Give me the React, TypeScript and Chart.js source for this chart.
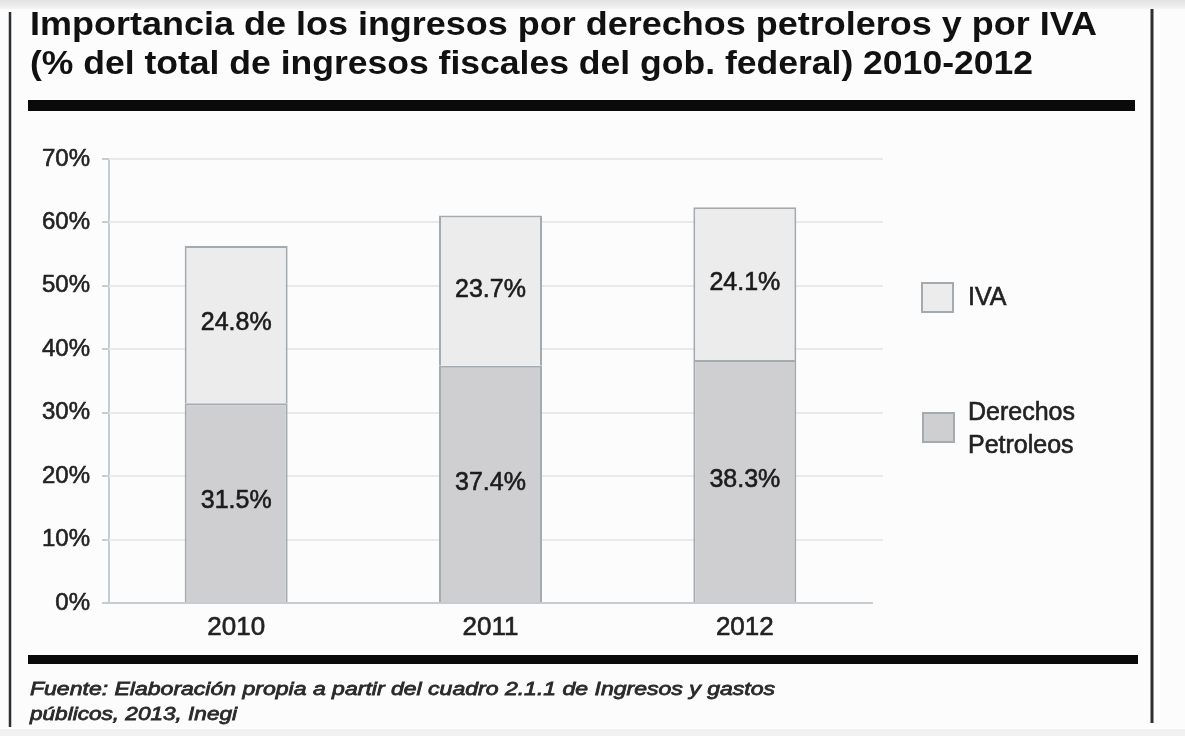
import React, { useEffect, useRef } from "react";
import { Chart, registerables } from "chart.js";

Chart.register(...registerables);

// ---- data ----
const years = ["2010", "2011", "2012"];
const derechosPetroleos = [31.5, 37.4, 38.3];
const iva = [24.8, 23.7, 24.1];
const yTickValues = [0, 10, 20, 30, 40, 50, 60, 70];
const seriesLabels = ["Derechos Petroleos", "IVA"];
const titleLines = [
  "Importancia de los ingresos por derechos petroleros y por IVA",
  "(% del total de ingresos fiscales del gob. federal) 2010-2012",
];
const sourceLines = [
  "Fuente: Elaboración propia a partir del cuadro 2.1.1 de Ingresos y gastos",
  "públicos, 2013, Inegi",
];

const W = 1185;
const H = 736;
const FONT = "'Liberation Sans', Arial, Helvetica, sans-serif";

const ivaFill = "#ececed";
const derFill = "#cfcfd1";
const barBorder = "#a3abb1";
const gridColor = "#e7e9eb";
const axisColor = "#c6ccd1";
const textColor = "#222222";

function fitText(
  ctx: CanvasRenderingContext2D,
  text: string,
  x: number,
  y: number,
  font: string,
  width: number,
  color: string,
  stroke = 0
) {
  ctx.save();
  ctx.font = font;
  ctx.fillStyle = color;
  ctx.strokeStyle = color;
  ctx.textAlign = "left";
  ctx.textBaseline = "alphabetic";
  const w = ctx.measureText(text).width;
  const s = width / w;
  ctx.translate(x, y);
  ctx.scale(s, 1);
  ctx.fillText(text, 0, 0);
  if (stroke > 0) {
    ctx.lineWidth = stroke;
    ctx.strokeText(text, 0, 0);
  }
  ctx.restore();
}

const decorPlugin = {
  id: "decor",
  beforeDraw(chart: any) {
    const ctx: CanvasRenderingContext2D = chart.ctx;
    ctx.save();
    ctx.fillStyle = "#fdfcfc";
    ctx.fillRect(0, 0, W, H);
    const g = ctx.createLinearGradient(0, 0, 0, 10);
    g.addColorStop(0, "#e2e2e2");
    g.addColorStop(1, "#f6f6f6");
    ctx.fillStyle = g;
    ctx.fillRect(0, 0, W, 9);
    ctx.fillStyle = "#f1f1f1";
    ctx.fillRect(0, 729, W, H - 729);
    ctx.restore();
  },
  beforeDatasetsDraw(chart: any) {
    const ctx: CanvasRenderingContext2D = chart.ctx;
    const ys = chart.scales.y;
    const area = chart.chartArea;
    ctx.save();
    ctx.strokeStyle = gridColor;
    ctx.lineWidth = 2;
    ys.ticks.forEach((t: any) => {
      if (t.value === 0) return;
      const py = Math.round(ys.getPixelForValue(t.value));
      ctx.beginPath();
      ctx.moveTo(area.left, py);
      ctx.lineTo(area.right + 11, py);
      ctx.stroke();
    });
    ctx.restore();
  },
  afterDatasetsDraw(chart: any) {
    const ctx: CanvasRenderingContext2D = chart.ctx;
    ctx.save();
    ctx.font = `25px ${FONT}`;
    ctx.fillStyle = "#1c1c1c";
    ctx.strokeStyle = "#1c1c1c";
    ctx.lineWidth = 0.6;
    ctx.textAlign = "center";
    ctx.textBaseline = "middle";
    chart.data.datasets.forEach((ds: any, di: number) => {
      const meta = chart.getDatasetMeta(di);
      meta.data.forEach((el: any, i: number) => {
        const v = ds.data[i] as number;
        const cy = (el.y + el.base) / 2;
        const t = `${v.toFixed(1)}%`;
        ctx.fillText(t, el.x, cy - 1);
        ctx.strokeText(t, el.x, cy - 1);
      });
    });
    ctx.restore();
  },
  afterDraw(chart: any) {
    const ctx: CanvasRenderingContext2D = chart.ctx;
    ctx.save();
    // title
    fitText(ctx, titleLines[0], 30, 35, `bold 33px ${FONT}`, 1067, "#111111");
    fitText(ctx, titleLines[1], 30, 74, `bold 33px ${FONT}`, 1003, "#111111");
    // rules
    ctx.fillStyle = "#0a0a0a";
    ctx.fillRect(28, 100, 1107, 11);
    ctx.fillRect(28, 655, 1110, 9);
    // frame lines
    ctx.strokeStyle = "#2b2f31";
    ctx.lineWidth = 2.5;
    ctx.beginPath();
    ctx.moveTo(10, 12);
    ctx.lineTo(10, 727);
    ctx.stroke();
    ctx.lineWidth = 3;
    ctx.beginPath();
    ctx.moveTo(1152, 9);
    ctx.lineTo(1152, 723);
    ctx.stroke();
    // source
    fitText(ctx, sourceLines[0], 30, 695, `italic 19px ${FONT}`, 745, "#2a2a2a", 0.8);
    fitText(ctx, sourceLines[1], 30, 720, `italic 19px ${FONT}`, 207, "#2a2a2a", 0.8);
    // legend (IVA first, then Derechos)
    const items = [
      { label: chart.data.datasets[1].label as string, fill: ivaFill, box: [921, 282, 33, 31], textY: 298 },
      { label: chart.data.datasets[0].label as string, fill: derFill, box: [922, 412, 33, 31], textY: 413 },
    ];
    ctx.font = `25px ${FONT}`;
    ctx.textAlign = "left";
    ctx.textBaseline = "middle";
    items.forEach((it) => {
      const [bx, by, bw, bh] = it.box;
      ctx.fillStyle = it.fill;
      ctx.fillRect(bx, by, bw, bh);
      ctx.strokeStyle = barBorder;
      ctx.lineWidth = 2;
      ctx.strokeRect(bx + 1, by + 1, bw - 2, bh - 2);
      ctx.fillStyle = textColor;
      ctx.strokeStyle = textColor;
      ctx.lineWidth = 0.6;
      const words = it.label.split(" ");
      words.forEach((w, k) => {
        ctx.fillText(w, 968, it.textY + k * 33);
        ctx.strokeText(w, 968, it.textY + k * 33);
      });
    });
    ctx.restore();
  },
};

export default function App() {
  const ref = useRef<HTMLCanvasElement | null>(null);

  useEffect(() => {
    document.body.style.margin = "0";
    document.body.style.overflow = "hidden";
    const canvas = ref.current!;
    const chart = new Chart(canvas, {
      type: "bar",
      data: {
        labels: years,
        datasets: [
          {
            label: seriesLabels[0],
            data: derechosPetroleos,
            backgroundColor: derFill,
            borderColor: barBorder,
            borderWidth: 2,
            barPercentage: 0.405,
            categoryPercentage: 1,
          },
          {
            label: seriesLabels[1],
            data: iva,
            backgroundColor: ivaFill,
            borderColor: barBorder,
            borderWidth: 2,
            barPercentage: 0.405,
            categoryPercentage: 1,
          },
        ],
      },
      options: {
        responsive: false,
        animation: false,
        devicePixelRatio: 1,
        layout: { padding: { left: 0, top: 159, right: W - 872, bottom: H - 603 - 40 } },
        plugins: {
          legend: { display: false },
          title: { display: false },
          tooltip: { enabled: false },
        },
        scales: {
          x: {
            stacked: true,
            grid: { display: false, drawTicks: false },
            border: { display: true, color: axisColor, width: 2 },
            ticks: {
              color: textColor,
              font: { family: FONT, size: 26 },
              padding: 9,
              textStrokeColor: textColor,
              textStrokeWidth: 0.6,
            },
            afterFit: (s: any) => {
              s.height = 40;
            },
          },
          y: {
            stacked: true,
            min: 0,
            max: 70,
            afterBuildTicks: (s: any) => {
              s.ticks = yTickValues.map((v) => ({ value: v }));
            },
            grid: { drawOnChartArea: false, drawTicks: true, tickLength: 7, color: axisColor, lineWidth: 2 },
            border: { display: true, color: axisColor, width: 2 },
            ticks: {
              color: textColor,
              font: { family: FONT, size: 24 },
              padding: 12,
              textStrokeColor: textColor,
              textStrokeWidth: 0.6,
              callback: (v: any) => `${v}%`,
            },
            afterFit: (s: any) => {
              s.width = 109;
            },
          },
        },
      },
      plugins: [decorPlugin],
    } as any);
    return () => chart.destroy();
  }, []);

  return (
    <div style={{ width: W, height: H }}>
      <canvas ref={ref} width={W} height={H} style={{ display: "block" }} />
    </div>
  );
}
